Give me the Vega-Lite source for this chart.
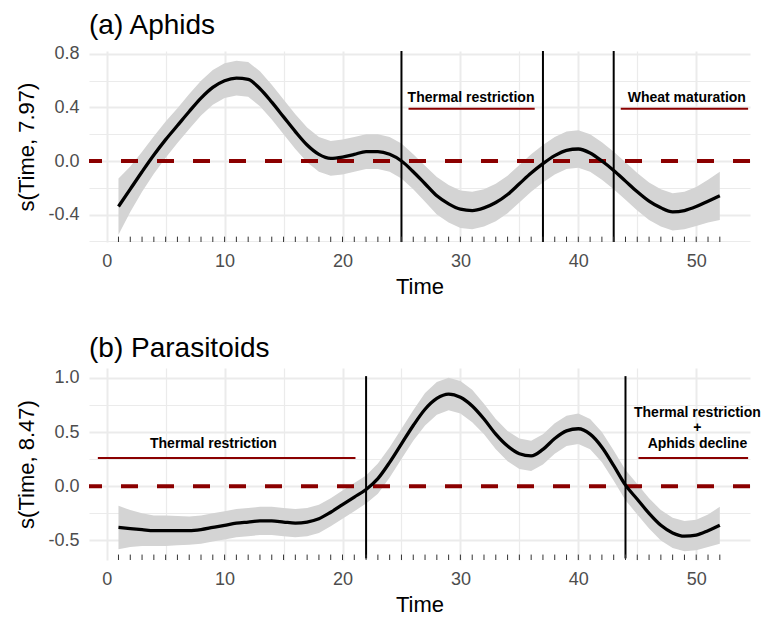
{
  "$schema": "https://vega.github.io/schema/vega-lite/v6.json",
  "padding": {"left": 15, "top": 11, "right": 0, "bottom": 0},
  "spacing": 38,
  "config": {
    "view": {"stroke": null},
    "font": "Liberation Sans",
    "axis": {
      "domain": false,
      "ticks": false,
      "tickCount": 30,
      "labelColor": "#4d4d4d",
      "labelFontSize": 18,
      "labelFont": "Liberation Sans",
      "labelPadding": 10,
      "labelOverlap": false,
      "titleFont": "Liberation Sans",
      "titleFontSize": 22,
      "titleFontWeight": "normal",
      "titleColor": "black",
      "gridColor": "#ebebeb"
    },
    "title": {"font": "Liberation Sans", "fontSize": 28, "fontWeight": "normal", "color": "black", "anchor": "start", "frame": "group", "offset": 5}
  },
  "datasets": {
    "aphids": [
      {"t": 1, "fit": -0.34, "lo": -0.55, "hi": -0.13},
      {"t": 2, "fit": -0.21, "lo": -0.38, "hi": -0.04},
      {"t": 3, "fit": -0.08, "lo": -0.23, "hi": 0.07},
      {"t": 4, "fit": 0.045, "lo": -0.095, "hi": 0.185},
      {"t": 5, "fit": 0.16, "lo": 0.025, "hi": 0.295},
      {"t": 6, "fit": 0.265, "lo": 0.135, "hi": 0.395},
      {"t": 7, "fit": 0.37, "lo": 0.24, "hi": 0.50},
      {"t": 8, "fit": 0.47, "lo": 0.34, "hi": 0.60},
      {"t": 9, "fit": 0.55, "lo": 0.42, "hi": 0.68},
      {"t": 10, "fit": 0.60, "lo": 0.47, "hi": 0.73},
      {"t": 11, "fit": 0.62, "lo": 0.49, "hi": 0.75},
      {"t": 12, "fit": 0.61, "lo": 0.48, "hi": 0.74},
      {"t": 13, "fit": 0.54, "lo": 0.41, "hi": 0.67},
      {"t": 14, "fit": 0.44, "lo": 0.31, "hi": 0.57},
      {"t": 15, "fit": 0.33, "lo": 0.20, "hi": 0.46},
      {"t": 16, "fit": 0.22, "lo": 0.09, "hi": 0.35},
      {"t": 17, "fit": 0.12, "lo": -0.01, "hi": 0.25},
      {"t": 18, "fit": 0.05, "lo": -0.08, "hi": 0.18},
      {"t": 19, "fit": 0.02, "lo": -0.11, "hi": 0.15},
      {"t": 20, "fit": 0.03, "lo": -0.10, "hi": 0.16},
      {"t": 21, "fit": 0.05, "lo": -0.08, "hi": 0.18},
      {"t": 22, "fit": 0.07, "lo": -0.06, "hi": 0.20},
      {"t": 23, "fit": 0.07, "lo": -0.06, "hi": 0.20},
      {"t": 24, "fit": 0.05, "lo": -0.08, "hi": 0.18},
      {"t": 25, "fit": 0.00, "lo": -0.13, "hi": 0.13},
      {"t": 26, "fit": -0.08, "lo": -0.21, "hi": 0.05},
      {"t": 27, "fit": -0.17, "lo": -0.305, "hi": -0.035},
      {"t": 28, "fit": -0.26, "lo": -0.40, "hi": -0.12},
      {"t": 29, "fit": -0.32, "lo": -0.46, "hi": -0.18},
      {"t": 30, "fit": -0.36, "lo": -0.50, "hi": -0.22},
      {"t": 31, "fit": -0.37, "lo": -0.51, "hi": -0.23},
      {"t": 32, "fit": -0.35, "lo": -0.49, "hi": -0.21},
      {"t": 33, "fit": -0.31, "lo": -0.45, "hi": -0.17},
      {"t": 34, "fit": -0.25, "lo": -0.39, "hi": -0.11},
      {"t": 35, "fit": -0.17, "lo": -0.31, "hi": -0.03},
      {"t": 36, "fit": -0.09, "lo": -0.23, "hi": 0.05},
      {"t": 37, "fit": -0.02, "lo": -0.16, "hi": 0.12},
      {"t": 38, "fit": 0.04, "lo": -0.10, "hi": 0.18},
      {"t": 39, "fit": 0.08, "lo": -0.06, "hi": 0.22},
      {"t": 40, "fit": 0.09, "lo": -0.05, "hi": 0.23},
      {"t": 41, "fit": 0.06, "lo": -0.08, "hi": 0.20},
      {"t": 42, "fit": 0.00, "lo": -0.14, "hi": 0.14},
      {"t": 43, "fit": -0.07, "lo": -0.21, "hi": 0.07},
      {"t": 44, "fit": -0.15, "lo": -0.29, "hi": -0.01},
      {"t": 45, "fit": -0.23, "lo": -0.37, "hi": -0.09},
      {"t": 46, "fit": -0.30, "lo": -0.44, "hi": -0.16},
      {"t": 47, "fit": -0.35, "lo": -0.49, "hi": -0.21},
      {"t": 48, "fit": -0.38, "lo": -0.52, "hi": -0.24},
      {"t": 49, "fit": -0.37, "lo": -0.51, "hi": -0.23},
      {"t": 50, "fit": -0.34, "lo": -0.485, "hi": -0.195},
      {"t": 51, "fit": -0.30, "lo": -0.46, "hi": -0.14},
      {"t": 52, "fit": -0.26, "lo": -0.44, "hi": -0.08}
    ],
    "paras": [
      {"t": 1, "fit": -0.38, "lo": -0.58, "hi": -0.18},
      {"t": 2, "fit": -0.39, "lo": -0.56, "hi": -0.22},
      {"t": 3, "fit": -0.40, "lo": -0.55, "hi": -0.25},
      {"t": 4, "fit": -0.41, "lo": -0.55, "hi": -0.27},
      {"t": 5, "fit": -0.41, "lo": -0.55, "hi": -0.27},
      {"t": 6, "fit": -0.41, "lo": -0.545, "hi": -0.275},
      {"t": 7, "fit": -0.41, "lo": -0.54, "hi": -0.28},
      {"t": 8, "fit": -0.40, "lo": -0.53, "hi": -0.27},
      {"t": 9, "fit": -0.38, "lo": -0.51, "hi": -0.25},
      {"t": 10, "fit": -0.36, "lo": -0.49, "hi": -0.23},
      {"t": 11, "fit": -0.34, "lo": -0.47, "hi": -0.21},
      {"t": 12, "fit": -0.33, "lo": -0.46, "hi": -0.20},
      {"t": 13, "fit": -0.32, "lo": -0.45, "hi": -0.19},
      {"t": 14, "fit": -0.32, "lo": -0.45, "hi": -0.19},
      {"t": 15, "fit": -0.33, "lo": -0.46, "hi": -0.20},
      {"t": 16, "fit": -0.34, "lo": -0.47, "hi": -0.21},
      {"t": 17, "fit": -0.33, "lo": -0.46, "hi": -0.20},
      {"t": 18, "fit": -0.30, "lo": -0.43, "hi": -0.17},
      {"t": 19, "fit": -0.24, "lo": -0.37, "hi": -0.11},
      {"t": 20, "fit": -0.17, "lo": -0.30, "hi": -0.04},
      {"t": 21, "fit": -0.10, "lo": -0.23, "hi": 0.03},
      {"t": 22, "fit": -0.03, "lo": -0.16, "hi": 0.10},
      {"t": 23, "fit": 0.07, "lo": -0.07, "hi": 0.21},
      {"t": 24, "fit": 0.22, "lo": 0.08, "hi": 0.36},
      {"t": 25, "fit": 0.39, "lo": 0.25, "hi": 0.53},
      {"t": 26, "fit": 0.56, "lo": 0.42, "hi": 0.70},
      {"t": 27, "fit": 0.71, "lo": 0.56, "hi": 0.86},
      {"t": 28, "fit": 0.81, "lo": 0.66, "hi": 0.96},
      {"t": 29, "fit": 0.85, "lo": 0.70, "hi": 1.00},
      {"t": 30, "fit": 0.82, "lo": 0.67, "hi": 0.97},
      {"t": 31, "fit": 0.74, "lo": 0.59, "hi": 0.89},
      {"t": 32, "fit": 0.62, "lo": 0.48, "hi": 0.76},
      {"t": 33, "fit": 0.48, "lo": 0.34, "hi": 0.62},
      {"t": 34, "fit": 0.37, "lo": 0.23, "hi": 0.51},
      {"t": 35, "fit": 0.30, "lo": 0.16, "hi": 0.44},
      {"t": 36, "fit": 0.28, "lo": 0.14, "hi": 0.42},
      {"t": 37, "fit": 0.34, "lo": 0.20, "hi": 0.48},
      {"t": 38, "fit": 0.44, "lo": 0.30, "hi": 0.58},
      {"t": 39, "fit": 0.51, "lo": 0.37, "hi": 0.65},
      {"t": 40, "fit": 0.53, "lo": 0.39, "hi": 0.67},
      {"t": 41, "fit": 0.48, "lo": 0.34, "hi": 0.62},
      {"t": 42, "fit": 0.36, "lo": 0.22, "hi": 0.50},
      {"t": 43, "fit": 0.19, "lo": 0.05, "hi": 0.33},
      {"t": 44, "fit": 0.01, "lo": -0.13, "hi": 0.15},
      {"t": 45, "fit": -0.12, "lo": -0.26, "hi": 0.02},
      {"t": 46, "fit": -0.25, "lo": -0.39, "hi": -0.11},
      {"t": 47, "fit": -0.36, "lo": -0.50, "hi": -0.22},
      {"t": 48, "fit": -0.43, "lo": -0.57, "hi": -0.29},
      {"t": 49, "fit": -0.46, "lo": -0.60, "hi": -0.32},
      {"t": 50, "fit": -0.45, "lo": -0.59, "hi": -0.31},
      {"t": 51, "fit": -0.41, "lo": -0.56, "hi": -0.26},
      {"t": 52, "fit": -0.36, "lo": -0.53, "hi": -0.19}
    ],
    "zero": [{"y": 0}],
    "vlineA": [{"x": 25}, {"x": 37}, {"x": 43}],
    "vlineB": [{"x": 22}, {"x": 44}],
    "segA": [
      {"x": 25.6, "x2": 36.3, "y": 0.39},
      {"x": 43.6, "x2": 54.4, "y": 0.39}
    ],
    "txtA": [
      {"x": 30.9, "y": 0.47, "label": "Thermal restriction"},
      {"x": 49.2, "y": 0.47, "label": "Wheat maturation"}
    ],
    "segB": [
      {"x": -0.75, "x2": 21.1, "y": 0.26},
      {"x": 45.1, "x2": 54.4, "y": 0.26}
    ],
    "txtB": [
      {"x": 9.05, "y": 0.385, "label": "Thermal restriction"},
      {"x": 50.1, "y": 0.677, "label": "Thermal restriction"},
      {"x": 50.1, "y": 0.54, "label": "+"},
      {"x": 50.1, "y": 0.385, "label": "Aphids decline"}
    ]
  },
  "vconcat": [
    {
      "width": 661,
      "height": 191,
      "title": {"text": "(a) Aphids"},
      "layer": [
        {
          "data": {"name": "aphids"},
          "mark": {"type": "area", "color": "#d4d4d4", "opacity": 1},
          "encoding": {
            "x": {
              "field": "t", "type": "quantitative", "title": "Time",
              "scale": {"domain": [-1.5, 54.56], "nice": false, "zero": false},
              "axis": {
                "values": [0, 5, 10, 15, 20, 25, 30, 35, 40, 45, 50],
                "tickCount": 30,
                "labelExpr": "datum.value % 10 === 0 ? datum.label : ''",
                "gridWidth": {"condition": {"test": "datum.value % 10 === 0", "value": 2}, "value": 1.2},
                "titlePadding": 6
              }
            },
            "y": {
              "field": "lo", "type": "quantitative", "title": "s(Time, 7.97)",
              "scale": {"domain": [-0.605, 0.822], "nice": false, "zero": false},
              "axis": {
                "values": [-0.6, -0.4, -0.2, 0, 0.2, 0.4, 0.6, 0.8],
                "tickCount": 30,
                "labelExpr": "abs(round(datum.value*5)) % 2 === 0 ? replace(format(datum.value, '.1f'), '\u2212', '-') : ''",
                "gridWidth": {"condition": {"test": "abs(round(datum.value*5)) % 2 === 0", "value": 2}, "value": 1.2},
                "titlePadding": 9
              }
            },
            "y2": {"field": "hi"}
          }
        },
        {
          "data": {"name": "zero"},
          "mark": {"type": "rule", "color": "#8b0000", "strokeWidth": 4, "strokeDash": [17, 19]},
          "encoding": {"y": {"field": "y", "type": "quantitative"}}
        },
        {
          "data": {"name": "vlineA"},
          "mark": {"type": "rule", "color": "black", "strokeWidth": 2},
          "encoding": {"x": {"field": "x", "type": "quantitative"}}
        },
        {
          "data": {"name": "segA"},
          "mark": {"type": "rule", "color": "#8b0000", "strokeWidth": 2},
          "encoding": {
            "x": {"field": "x", "type": "quantitative"},
            "x2": {"field": "x2"},
            "y": {"field": "y", "type": "quantitative"}
          }
        },
        {
          "data": {"name": "txtA"},
          "mark": {"type": "text", "font": "Liberation Sans", "fontWeight": "bold", "fontSize": 14, "color": "black", "baseline": "middle", "align": "center"},
          "encoding": {
            "x": {"field": "x", "type": "quantitative"},
            "y": {"field": "y", "type": "quantitative"},
            "text": {"field": "label"}
          }
        },
        {
          "data": {"name": "aphids"},
          "mark": {"type": "rule", "color": "#333333", "strokeWidth": 1},
          "encoding": {
            "x": {"field": "t", "type": "quantitative"},
            "y": {"datum": -0.605},
            "y2": {"datum": -0.565}
          }
        },
        {
          "data": {"name": "aphids"},
          "mark": {"type": "line", "color": "black", "strokeWidth": 3.3, "interpolate": "monotone"},
          "encoding": {
            "x": {"field": "t", "type": "quantitative"},
            "y": {"field": "fit", "type": "quantitative"}
          }
        }
      ]
    },
    {
      "width": 661,
      "height": 192,
      "title": {"text": "(b) Parasitoids"},
      "layer": [
        {
          "data": {"name": "paras"},
          "mark": {"type": "area", "color": "#d4d4d4", "opacity": 1},
          "encoding": {
            "x": {
              "field": "t", "type": "quantitative", "title": "Time",
              "scale": {"domain": [-1.5, 54.56], "nice": false, "zero": false},
              "axis": {
                "values": [0, 5, 10, 15, 20, 25, 30, 35, 40, 45, 50],
                "tickCount": 30,
                "labelExpr": "datum.value % 10 === 0 ? datum.label : ''",
                "gridWidth": {"condition": {"test": "datum.value % 10 === 0", "value": 2}, "value": 1.2},
                "titlePadding": 6
              }
            },
            "y": {
              "field": "lo", "type": "quantitative", "title": "s(Time, 8.47)",
              "scale": {"domain": [-0.68, 1.09], "nice": false, "zero": false},
              "axis": {
                "values": [-0.5, -0.25, 0, 0.25, 0.5, 0.75, 1],
                "tickCount": 30,
                "labelExpr": "abs(round(datum.value*4)) % 2 === 0 ? replace(format(datum.value, '.1f'), '\u2212', '-') : ''",
                "gridWidth": {"condition": {"test": "abs(round(datum.value*4)) % 2 === 0", "value": 2}, "value": 1.2},
                "titlePadding": 9
              }
            },
            "y2": {"field": "hi"}
          }
        },
        {
          "data": {"name": "zero"},
          "mark": {"type": "rule", "color": "#8b0000", "strokeWidth": 4, "strokeDash": [17, 19]},
          "encoding": {"y": {"field": "y", "type": "quantitative"}}
        },
        {
          "data": {"name": "vlineB"},
          "mark": {"type": "rule", "color": "black", "strokeWidth": 2},
          "encoding": {
            "x": {"field": "x", "type": "quantitative"},
            "y": {"datum": -0.665},
            "y2": {"datum": 1.015}
          }
        },
        {
          "data": {"name": "segB"},
          "mark": {"type": "rule", "color": "#8b0000", "strokeWidth": 2},
          "encoding": {
            "x": {"field": "x", "type": "quantitative"},
            "x2": {"field": "x2"},
            "y": {"field": "y", "type": "quantitative"}
          }
        },
        {
          "data": {"name": "txtB"},
          "mark": {"type": "text", "font": "Liberation Sans", "fontWeight": "bold", "fontSize": 14, "color": "black", "baseline": "middle", "align": "center"},
          "encoding": {
            "x": {"field": "x", "type": "quantitative"},
            "y": {"field": "y", "type": "quantitative"},
            "text": {"field": "label"}
          }
        },
        {
          "data": {"name": "paras"},
          "mark": {"type": "rule", "color": "#333333", "strokeWidth": 1},
          "encoding": {
            "x": {"field": "t", "type": "quantitative"},
            "y": {"datum": -0.68},
            "y2": {"datum": -0.63}
          }
        },
        {
          "data": {"name": "paras"},
          "mark": {"type": "line", "color": "black", "strokeWidth": 3.3, "interpolate": "monotone"},
          "encoding": {
            "x": {"field": "t", "type": "quantitative"},
            "y": {"field": "fit", "type": "quantitative"}
          }
        }
      ]
    }
  ]
}
